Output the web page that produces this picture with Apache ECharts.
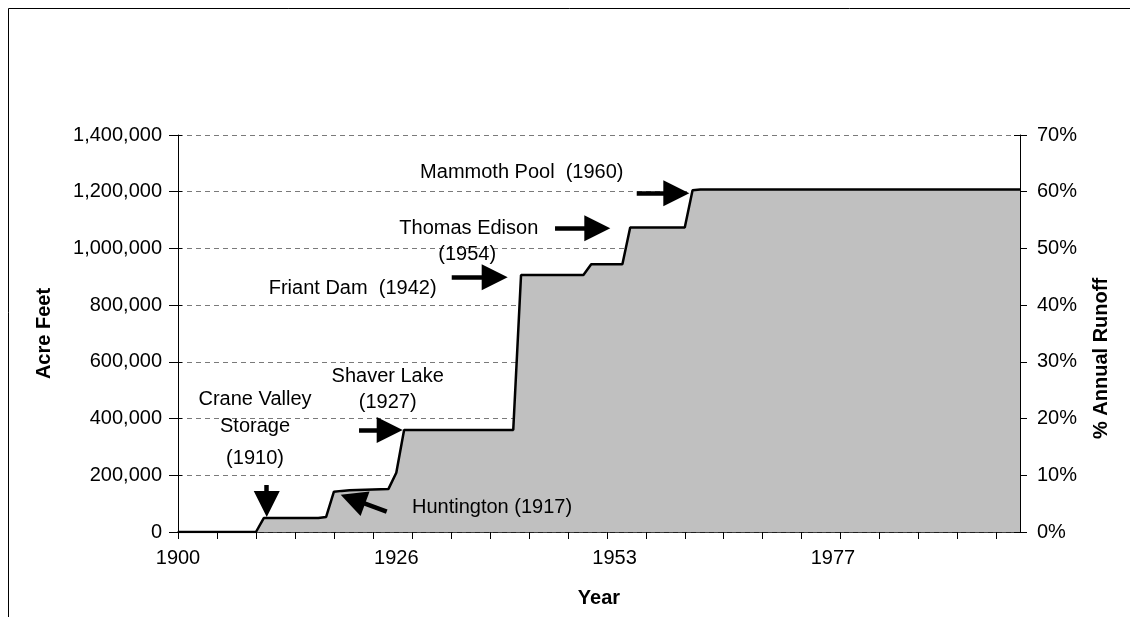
<!DOCTYPE html>
<html>
<head>
<meta charset="utf-8">
<script src="https://cdn.jsdelivr.net/npm/echarts@6/dist/echarts.min.js"></script>
<style>
html,body{margin:0;padding:0;background:#fff;}
#chart{width:1130px;height:617px;}
</style>
</head>
<body>
<div id="chart"></div>
<script>
// Category years (duplicated years are the step points of the original worksheet)
var years = [
  '1900','1901','1902','1903','1904','1905','1906','1907','1908','1909','1910',
  '1910',
  '1911','1912','1913','1914','1915','1916','1917',
  '1917',
  '1918','1919','1920','1921','1922','1923','1924','1925','1926',
  '1927','1927',
  '1928','1929','1930','1931','1932','1933','1934','1935','1936','1937','1938','1939','1940',
  '1941','1942','1943','1944','1945','1946','1947','1948','1949','1950','1951','1952','1953',
  '1953','1954','1954','1955','1955','1956','1957','1958','1959','1960','1960',
  '1961','1962','1963','1964','1965','1966','1967','1968','1969','1970','1971','1972','1973',
  '1974','1975','1976','1977',
  '1978','1979','1980','1981','1982','1983','1984','1985','1986','1987','1988','1989','1990',
  '1991','1992','1993','1994','1995','1996','1997','1998','1999','2000','2001'
];

// Cumulative storage (acre feet)
var storage = [
  0,0,0,0,0,0,0,0,0,0,0,
  49000,49000,49000,49000,49000,49000,49000,49000,
  53000,
  142000,145000,147000,148000,149000,150000,151000,152000,
  209000,
  360000,360000,360000,360000,360000,360000,360000,360000,360000,360000,360000,360000,360000,360000,360000,
  906000,906000,906000,906000,906000,906000,906000,906000,906000,
  944000,944000,944000,944000,944000,
  1074000,1074000,1074000,1074000,1074000,1074000,1074000,1074000,
  1205000,
  1208000,1208000,1208000,1208000,1208000,1208000,1208000,1208000,1208000,1208000,
  1208000,1208000,1208000,1208000,1208000,1208000,1208000,1208000,1208000,1208000,
  1208000,1208000,1208000,1208000,1208000,1208000,1208000,1208000,1208000,1208000,
  1208000,1208000,1208000,1208000,1208000,1208000,1208000,1208000,1208000,1208000,
  1208000,1208000
];

// Left axis ticks (acre feet) and right axis ticks (% annual runoff)
var leftTicks = [0, 200000, 400000, 600000, 800000, 1000000, 1200000, 1400000];
var rightTicks = [0, 10, 20, 30, 40, 50, 60, 70];

// Annotation texts: [category position, acre feet, text]
var noteTexts = [
  [9.88, 469000, 'Crane Valley'],
  [9.88, 371300, 'Storage'],
  [9.88, 261000, '(1910)'],
  [26.9, 547700, 'Shaver Lake'],
  [26.9, 455000, '(1927)'],
  [40.28, 88000, 'Huntington (1917)'],
  [22.4, 860000, 'Friant Dam  (1942)'],
  [37.3, 1071000, 'Thomas Edison'],
  [37.1, 980400, '(1954)'],
  [44.1, 1267000, 'Mammoth Pool  (1960)']
];

// Annotation arrows: [fromPos, fromValue, toPos, toValue]
var noteArrows = [
  [11.38, 165700, 11.38, 98700],
  [23.22, 360000, 27.15, 360000],
  [26.77, 71600, 22.43, 115700],
  [35.11, 898200, 40.62, 898200],
  [48.36, 1071000, 53.78, 1071000],
  [58.84, 1194400, 63.92, 1194400]
];

var FONT = "'Liberation Sans', Arial, Helvetica, sans-serif";
var chart = echarts.init(document.getElementById('chart'), null, {renderer: 'canvas'});

var gridPos = {left: 178, right: 110, top: 135, bottom: 85, containLabel: false};

var option = {
  animation: false,
  backgroundColor: '#ffffff',
  textStyle: {fontFamily: FONT, color: '#000'},
  graphic: [
    {type: 'line', shape: {x1: 8.5, y1: 8.5, x2: 1130, y2: 8.5}, style: {stroke: '#000', lineWidth: 1}, silent: true},
    {type: 'line', shape: {x1: 8.5, y1: 8.5, x2: 8.5, y2: 617}, style: {stroke: '#000', lineWidth: 1}, silent: true}
  ],
  grid: [gridPos, gridPos],
  xAxis: [
    {
      type: 'category', gridIndex: 0, data: years, boundaryGap: false,
      name: 'Year', nameLocation: 'middle', nameGap: 56,
      nameTextStyle: {fontFamily: FONT, fontSize: 20, fontWeight: 'bold', color: '#000'},
      axisLine: {show: true, lineStyle: {color: '#000', width: 1.5}},
      axisTick: {show: true, interval: 4, length: 7, inside: false, lineStyle: {color: '#000', width: 1}},
      axisLabel: {show: true, interval: 27, margin: 16, fontFamily: FONT, fontSize: 20, color: '#000'},
      splitLine: {show: false}
    },
    {
      type: 'value', gridIndex: 1, min: 0, max: years.length - 1, show: false
    }
  ],
  yAxis: [
    {
      type: 'value', gridIndex: 0, position: 'left', min: leftTicks[0], max: leftTicks[leftTicks.length - 1],
      interval: leftTicks[1] - leftTicks[0],
      name: 'Acre Feet', nameLocation: 'middle', nameGap: 124,
      nameTextStyle: {fontFamily: FONT, fontSize: 20, fontWeight: 'bold', color: '#000'},
      axisLine: {show: true, lineStyle: {color: '#000', width: 1}},
      axisTick: {show: true, length: 9, inside: false, lineStyle: {color: '#000', width: 1}},
      axisLabel: {
        margin: 16, fontFamily: FONT, fontSize: 20, color: '#000',
        formatter: function (v) { return v.toString().replace(/\B(?=(\d{3})+(?!\d))/g, ','); }
      },
      splitLine: {show: true, lineStyle: {color: '#7a7a7a', width: 1, type: [5, 4]}}
    },
    {
      type: 'value', gridIndex: 0, position: 'right', min: rightTicks[0], max: rightTicks[rightTicks.length - 1],
      interval: rightTicks[1] - rightTicks[0],
      name: '% Annual Runoff', nameLocation: 'middle', nameGap: 71,
      nameTextStyle: {fontFamily: FONT, fontSize: 20, fontWeight: 'bold', color: '#000', padding: [0, 50, 0, 0]},
      axisLine: {show: true, lineStyle: {color: '#000', width: 1}},
      axisTick: {show: true, length: 7, inside: false, lineStyle: {color: '#000', width: 1}},
      axisLabel: {margin: 17, fontFamily: FONT, fontSize: 20, color: '#000', formatter: '{value}%'},
      splitLine: {show: false}
    },
    {
      type: 'value', gridIndex: 1, position: 'left', min: leftTicks[0], max: leftTicks[leftTicks.length - 1],
      interval: leftTicks[1] - leftTicks[0],
      axisLine: {show: false}, axisLabel: {show: false}, splitLine: {show: false},
      axisTick: {show: true, inside: true, length: 4, lineStyle: {color: '#000', width: 1}}
    },
    {
      type: 'value', gridIndex: 1, position: 'right', min: rightTicks[0], max: rightTicks[rightTicks.length - 1],
      interval: rightTicks[1] - rightTicks[0],
      axisLine: {show: false}, axisLabel: {show: false}, splitLine: {show: false},
      axisTick: {show: true, inside: true, length: 6, lineStyle: {color: '#000', width: 1}}
    }
  ],
  series: [
    {
      type: 'line', name: 'Storage', xAxisIndex: 0, yAxisIndex: 0,
      data: storage, symbol: 'none', smooth: false,
      lineStyle: {color: '#000', width: 2.5},
      areaStyle: {color: '#c0c0c0', opacity: 1},
      z: 3
    },
    {
      type: 'scatter', name: 'Notes', xAxisIndex: 1, yAxisIndex: 2,
      data: noteTexts, symbolSize: 0, silent: true, z: 5,
      itemStyle: {opacity: 1, color: '#000'},
      label: {
        show: true, position: 'inside', fontFamily: FONT, fontSize: 20, color: '#000', opacity: 1,
        formatter: function (p) { return p.value[2]; }
      },
      emphasis: {disabled: true},
      markLine: {
        silent: true, animation: false,
        symbol: ['none', 'triangle'], symbolSize: 26,
        label: {show: false},
        lineStyle: {color: '#000', width: 4.5, type: 'solid', opacity: 1},
        itemStyle: {color: '#000', opacity: 1},
        emphasis: {disabled: true},
        data: noteArrows.map(function (a) {
          return [{coord: [a[0], a[1]]}, {coord: [a[2], a[3]]}];
        })
      }
    }
  ]
};
chart.setOption(option);
</script>
</body>
</html>
